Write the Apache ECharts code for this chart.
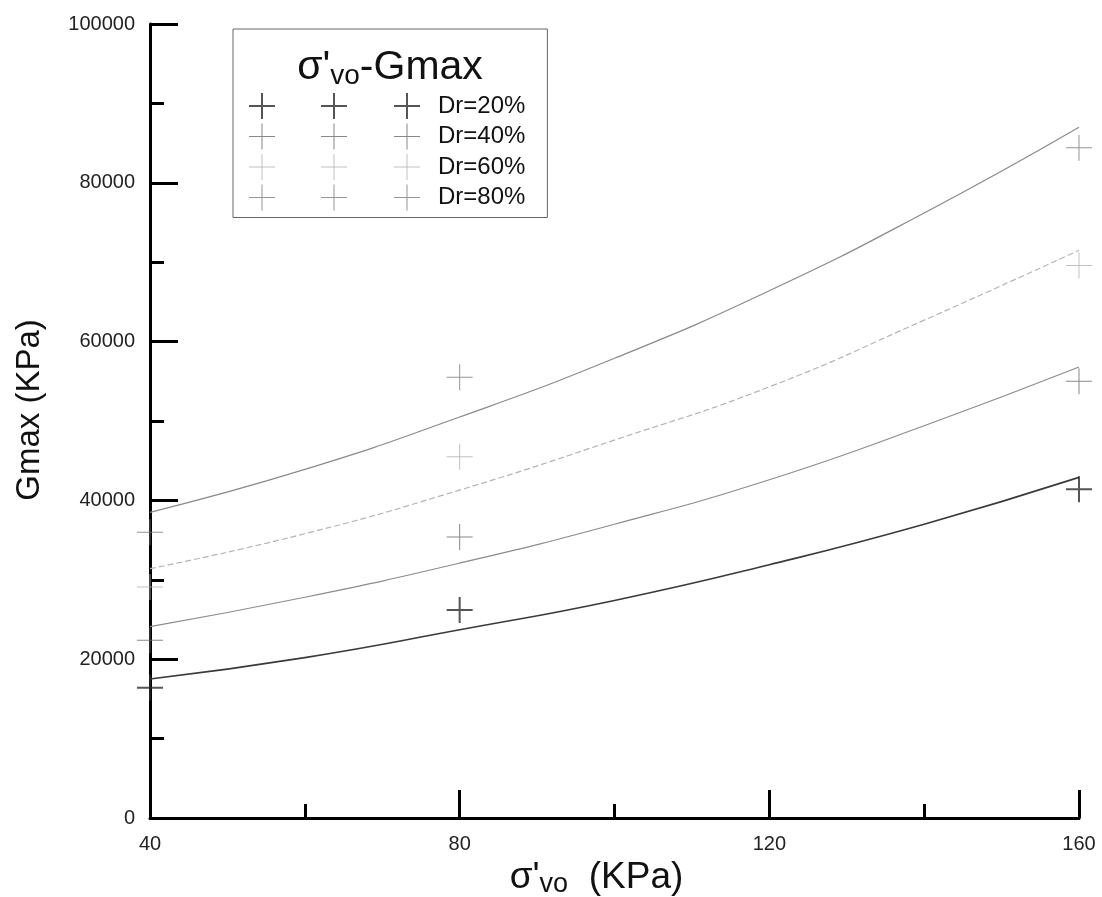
<!DOCTYPE html>
<html>
<head>
<meta charset="utf-8">
<script src="https://cdn.jsdelivr.net/npm/echarts@6/dist/echarts.min.js"></script>
<style>
html,body{margin:0;padding:0;background:#fff;overflow:hidden;width:1102px;height:897px;}
#chart{position:absolute;left:0;top:0;width:1102px;height:897px;}
</style>
</head>
<body>
<div id="chart"></div>
<script>
// ---- data ----
const seriesNames = ['Dr=20%', 'Dr=40%', 'Dr=60%', 'Dr=80%'];
const testStress = [40, 80, 160];
const gmaxDr20 = [16400, 26200, 41400];
const gmaxDr40 = [22400, 35400, 55000];
const gmaxDr60 = [29100, 45500, 69600];
const gmaxDr80 = [36000, 55500, 84400];

const fitStress = [40, 60, 80, 100, 120, 140, 160];
const fitDr20 = [17500, 20200, 23700, 27400, 31900, 37000, 42900];
const fitDr40 = [24100, 27800, 32100, 37000, 42600, 49400, 56800];
const fitDr60 = [31400, 35800, 41300, 47600, 54300, 62700, 71500];
const fitDr80 = [38500, 43900, 50500, 57900, 66400, 76200, 87000];

const xTicks = [40, 80, 120, 160];
const yTicks = [0, 20000, 40000, 60000, 80000, 100000];

// ---- styling ----
const FONT = 'Liberation Sans, Arial, sans-serif';
const pointColors = ['#2a2a2a', '#6a6a6a', '#b0b0b0', '#7a7a7a'];
const lineColors = ['#3a3a3a', '#8c8c8c', '#b4b4b4', '#8a8a8a'];
const lineTypes = ['solid', 'solid', [6, 3], 'solid'];
const lineWidths = [1.6, 1.2, 1.2, 1.2];

const crossThin = 'path://M0,12.5H26V13.5H0Z M12.5,0H13.5V26H12.5Z';
const crossThick = 'path://M0,12H26V14H0Z M12,0H14V26H12Z';
function legendIcon(t) {
  const h = 13 - t / 2;
  let p = 'path://';
  [0, 72, 145].forEach(o => {
    p += 'M' + o + ',' + h + 'H' + (o + 26) + 'V' + (h + t) + 'H' + o + 'Z ';
    p += 'M' + (o + h) + ',0H' + (o + h + t) + 'V26H' + (o + h) + 'Z ';
  });
  return p;
}

const pts = [gmaxDr20, gmaxDr40, gmaxDr60, gmaxDr80];
const fits = [fitDr20, fitDr40, fitDr60, fitDr80];

const series = [];
fits.forEach((f, i) => {
  series.push({
    name: 'fit ' + seriesNames[i],
    type: 'line',
    data: fitStress.map((x, k) => [x, f[k]]),
    smooth: true,
    showSymbol: false,
    silent: true,
    lineStyle: { color: lineColors[i], width: lineWidths[i], type: lineTypes[i] },
    z: 2
  });
});
pts.forEach((p, i) => {
  series.push({
    name: seriesNames[i],
    type: 'scatter',
    data: testStress.map((x, k) => [x, p[k]]),
    symbol: i === 0 ? crossThick : crossThin,
    symbolSize: 26,
    clip: false,
    itemStyle: { color: pointColors[i] },
    z: 3
  });
});

const chart = echarts.init(document.getElementById('chart'), null, { renderer: 'canvas', width: 1102, height: 897 });
chart.setOption({
  animation: false,
  backgroundColor: '#fff',
  textStyle: { fontFamily: FONT },
  grid: { left: 150, right: 23, top: 24, bottom: 79, containLabel: false, outerBoundsMode: 'none' },
  title: {
    text: "{a|σ'}{b|vo}{a|-Gmax}",
    left: 385,
    top: 41,
    textAlign: 'center',
    textStyle: {
      fontWeight: 'normal',
      rich: {
        a: { fontFamily: FONT, fontSize: 41, fontWeight: 'normal', color: '#111', lineHeight: 44 },
        b: { fontFamily: FONT, fontSize: 28, fontWeight: 'normal', color: '#111', lineHeight: 18, verticalAlign: 'bottom' }
      }
    }
  },
  legend: {
    orient: 'vertical',
    left: 233,
    top: 29,
    padding: [64, 22, 7, 16],
    borderColor: '#666',
    borderWidth: 1,
    itemWidth: 171,
    itemHeight: 26,
    itemGap: 4.5,
    selectedMode: false,
    data: seriesNames.map((n, i) => ({ name: n, icon: legendIcon(i === 0 ? 2 : 1) })),
    formatter: n => '{t|' + n + '}',
    textStyle: {
      rich: { t: { fontFamily: FONT, fontSize: 24, color: '#111', padding: [0, 0, 0, 13] } }
    }
  },
  xAxis: {
    type: 'value',
    min: 40,
    max: 160,
    interval: 40,
    name: "{a|σ'}{b|vo}{a|  (KPa)}{p|}",
    nameLocation: 'middle',
    nameGap: 40,
    nameTextStyle: {
      rich: {
        a: { fontFamily: FONT, fontSize: 37, color: '#111', lineHeight: 40 },
        b: { fontFamily: FONT, fontSize: 27, color: '#111', lineHeight: 17, verticalAlign: 'bottom' },
        p: { width: 36, lineHeight: 40 }
      }
    },
    axisLine: { show: true, onZero: false, lineStyle: { color: '#000', width: 3 } },
    axisTick: { show: true, inside: true, length: 28, lineStyle: { color: '#000', width: 3 } },
    minorTick: { show: true, splitNumber: 2, length: 14, lineStyle: { color: '#000', width: 3 } },
    splitLine: { show: false },
    axisLabel: {
      fontFamily: FONT, fontSize: 20, color: '#222', margin: 16,
      formatter: v => (xTicks.indexOf(v) >= 0 ? String(v) : '')
    }
  },
  yAxis: {
    type: 'value',
    min: 0,
    max: 100000,
    interval: 20000,
    name: 'Gmax (KPa)',
    nameLocation: 'middle',
    nameGap: 104,
    nameTextStyle: { fontFamily: FONT, fontSize: 33, color: '#111', padding: [0, 0, 0, 22] },
    axisLine: { show: true, onZero: false, lineStyle: { color: '#000', width: 3 } },
    axisTick: { show: true, inside: true, length: 28, lineStyle: { color: '#000', width: 3 } },
    minorTick: { show: true, splitNumber: 2, length: 14, lineStyle: { color: '#000', width: 3 } },
    splitLine: { show: false },
    axisLabel: {
      fontFamily: FONT, fontSize: 20, color: '#222', margin: 15,
      formatter: v => (yTicks.indexOf(v) >= 0 ? String(v) : '')
    }
  },
  series: series
});
</script>
</body>
</html>
